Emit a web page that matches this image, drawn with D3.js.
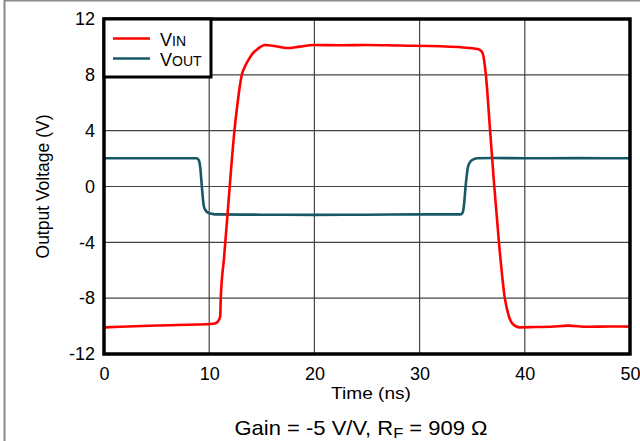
<!DOCTYPE html>
<html>
<head>
<meta charset="utf-8">
<script src="https://cdn.jsdelivr.net/npm/d3@7"></script>
<style>
  body { margin: 0; background: #fff; }
  text { font-family: "Liberation Sans", Arial, sans-serif; fill: #000; }
</style>
</head>
<body>
<div id="canvas"></div>
<script>
// tick values
var xTicks = [0, 10, 20, 30, 40, 50];
var yTicks = [-12, -8, -4, 0, 4, 8, 12];

// V_IN (red)
var vinTime = [0, 5, 10.4, 10.6, 10.85, 11.05, 11.1, 11.4, 11.7, 11.95, 12.4, 12.7, 13.1, 13.4, 13.8, 14.1, 14.6, 15.3, 16.3, 17.4, 18.6, 19.9, 22.5, 25, 28, 32, 35, 35.5, 35.8, 36.0, 36.3, 36.7, 37.1, 37.55, 38.1, 38.5, 38.8, 39.5, 41, 42.5, 44.1, 46, 48, 50];
var vinVolt = [-10.09, -9.96, -9.83, -9.8, -9.65, -9.3, -8, -5.2, -2.4, 0, 4, 6, 8, 8.6, 9.15, 9.5, 9.85, 10.14, 10.05, 9.92, 10.02, 10.14, 10.12, 10.14, 10.1, 10.05, 9.9, 9.85, 9.75, 9.54, 8, 4, 0, -4.07, -8, -9.33, -9.8, -10.09, -10.07, -10.05, -9.97, -10.05, -10.03, -10.04];

// V_OUT (teal)
var voutTime = [0, 8.8, 9.0, 9.14, 9.3, 9.5, 9.7, 9.9, 10.3, 10.7, 15, 20, 25, 30, 33.9, 34.1, 34.2, 34.4, 34.6, 34.8, 35.0, 35.5, 37, 40, 45, 50];
var voutVolt = [2.02, 2.02, 1.9, 1.42, 0, -1.45, -1.75, -1.88, -1.96, -2.0, -2.02, -2.03, -2.02, -2.0, -2.0, -1.85, -1.45, 0.23, 1.42, 1.75, 1.9, 2.02, 2.04, 2.02, 2.03, 2.02];

var W = 640, H = 441;
var margin = {top: 19, right: 10, bottom: 87, left: 104};
var width = 630 - margin.left;
var height = 354 - margin.top;

var svg = d3.select("#canvas").append("svg")
    .attr("width", W)
    .attr("height", H);

// outer frame (cropped figure border)
svg.append("rect")
    .attr("x", 4.5).attr("y", 0.5)
    .attr("width", W + 10).attr("height", H + 10)
    .attr("fill", "none")
    .attr("stroke", "#8a8a8a")
    .attr("stroke-width", 2);

var g = svg.append("g")
    .attr("transform", "translate(" + margin.left + "," + margin.top + ")");

var x = d3.scaleLinear().domain([0, 50]).range([0, width]);
var y = d3.scaleLinear().domain([-12, 12]).range([height, 0]);

// grid lines
g.append("g")
    .attr("class", "grid")
    .selectAll("line.v")
    .data(xTicks)
  .enter().append("line")
    .attr("x1", function(d) { return x(d); })
    .attr("x2", function(d) { return x(d); })
    .attr("y1", 0).attr("y2", height)
    .attr("stroke", "#444")
    .attr("stroke-width", 1.2);

g.append("g")
    .attr("class", "grid")
    .selectAll("line.h")
    .data(yTicks)
  .enter().append("line")
    .attr("x1", 0).attr("x2", width)
    .attr("y1", function(d) { return y(d); })
    .attr("y2", function(d) { return y(d); })
    .attr("stroke", "#444")
    .attr("stroke-width", 1.2);

// axes (labels only, frame drawn below); plain hyphen for negatives
var fmt = function(d) { return String(d); };
var xAxis = g.append("g")
    .attr("transform", "translate(0," + height + ")")
    .call(d3.axisBottom(x).tickValues(xTicks).tickFormat(fmt).tickSize(0).tickPadding(13));
var yAxis = g.append("g")
    .call(d3.axisLeft(y).tickValues(yTicks).tickFormat(fmt).tickSize(0).tickPadding(9));

[xAxis, yAxis].forEach(function(a) {
  a.select(".domain").remove();
  a.selectAll("text")
    .style("font-family", "'Liberation Sans', Arial, sans-serif")
    .style("font-size", "18px")
    .attr("fill", "#000");
});

// traces
var line = d3.line()
    .x(function(d) { return x(d[0]); })
    .y(function(d) { return y(d[1]); })
    .curve(d3.curveMonotoneX);

var vin = d3.zip(vinTime, vinVolt);
var vout = d3.zip(voutTime, voutVolt);

g.append("path")
    .datum(vout)
    .attr("d", line)
    .attr("fill", "none")
    .attr("stroke", "#175866")
    .attr("stroke-width", 2.6);

g.append("path")
    .datum(vin)
    .attr("d", line)
    .attr("fill", "none")
    .attr("stroke", "#ff0000")
    .attr("stroke-width", 2.6);

// plot frame
g.append("rect")
    .attr("x", 0).attr("y", 0)
    .attr("width", width).attr("height", height)
    .attr("fill", "none")
    .attr("stroke", "#000")
    .attr("stroke-width", 3.5);

// legend
var legend = g.append("g");
legend.append("rect")
    .attr("x", 0).attr("y", 0)
    .attr("width", 107).attr("height", 58)
    .attr("fill", "#fff")
    .attr("stroke", "#000")
    .attr("stroke-width", 3);

var legendItems = [
  {name: "V", sub: "IN", color: "#ff0000"},
  {name: "V", sub: "OUT", color: "#175866"}
];
legendItems.forEach(function(d, i) {
  var ly = 19.5 + i * 20;
  legend.append("line")
      .attr("x1", 9).attr("x2", 46)
      .attr("y1", ly).attr("y2", ly)
      .attr("stroke", d.color)
      .attr("stroke-width", 2.6);
  var t = legend.append("text")
      .attr("x", 56).attr("y", ly + 7.8)
      .style("font-size", "18px");
  t.append("tspan").text(d.name);
  t.append("tspan").style("font-size", "14px").text(d.sub);
});

// axis titles
svg.append("text")
    .attr("x", margin.left + width / 2 + 4)
    .attr("y", 399)
    .attr("text-anchor", "middle")
    .style("font-size", "17px")
    .attr("textLength", 80)
    .attr("lengthAdjust", "spacingAndGlyphs")
    .text("Time (ns)");

svg.append("text")
    .attr("transform", "translate(49," + (margin.top + height / 2) + ") rotate(-90)")
    .attr("text-anchor", "middle")
    .style("font-size", "17.5px")
    .text("Output Voltage (V)");

// footer note
var foot = svg.append("g")
    .attr("transform", "translate(361,435) scale(1.1,1)")
  .append("text")
    .attr("x", 0)
    .attr("y", 0)
    .attr("text-anchor", "middle")
    .style("font-size", "20px");
foot.append("tspan").text("Gain = -5 V/V, R");
foot.append("tspan").attr("dy", 2.5).style("font-size", "15px").text("F");
foot.append("tspan").attr("dy", -2.5).text(" = 909 \u03A9");
</script>
</body>
</html>
